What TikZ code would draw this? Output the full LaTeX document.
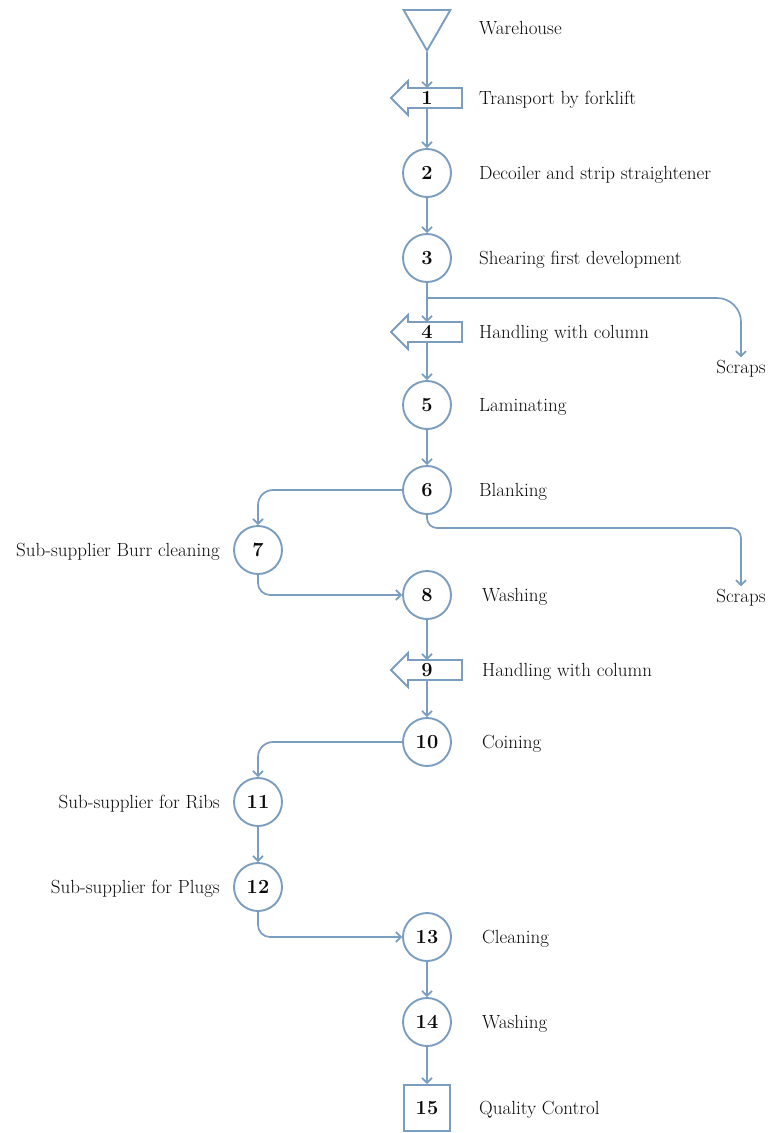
\documentclass[tikz,border=0pt]{standalone}
\usetikzlibrary{arrows.meta,shapes.geometric}
\definecolor{lc}{RGB}{122,157,192}
\definecolor{tx}{RGB}{10,10,10}
\begin{document}
\begin{tikzpicture}[x=1pt,y=-1pt,
  font=\fontsize{19}{23}\selectfont,
  proc/.style={circle,draw=lc,line width=1.9pt,minimum size=48pt,inner sep=0pt,
    text=tx,font=\fontsize{20}{24}\selectfont\bfseries},
  qc/.style={rectangle,draw=lc,line width=1.9pt,minimum size=46pt,inner sep=0pt,
    text=tx,font=\fontsize{20}{24}\selectfont\bfseries},
  mv/.style={rectangle,minimum width=20pt,minimum height=20pt,inner sep=0pt,outer sep=0pt,
    text=tx,font=\fontsize{20}{24}\selectfont\bfseries},
  blk/.style={draw=lc,line width=1.9pt},
  conn/.style={draw=lc,line width=1.7pt,-{Straight Barb[length=5pt,width=10pt]}},
  lab/.style={anchor=west,inner sep=0pt,text height=13pt,text depth=0pt,text=tx},
  llab/.style={anchor=east,inner sep=0pt,text height=13pt,text depth=0pt,text=tx},
  scr/.style={inner sep=3pt,text height=13pt,text depth=0pt,text=tx}]
\useasboundingbox (0,0) rectangle (768,1133);

% storage triangle
\node[regular polygon,regular polygon sides=3,shape border rotate=180,draw=lc,
  line width=1.9pt,minimum size=54pt,inner sep=0pt] (wh) at (427,23.5) {};

% process nodes
\node[mv] (n1) at (427,98) {1};
\node[proc] (n2) at (427,173) {2};
\node[proc] (n3) at (427,258) {3};
\coordinate (j1) at (427,298);
\node[mv] (n4) at (427,332) {4};
\node[scr] (s1) at (741,367) {Scraps};
\node[proc] (n5) at (427,405) {5};
\node[proc] (n6) at (427,490) {6};
\coordinate (b6) at (741,528);
\node[proc] (n7) at (258,550) {7};
\node[proc] (n8) at (427,595) {8};
\node[scr] (s2) at (741,596) {Scraps};
\node[mv] (n9) at (427,670) {9};
\node[proc] (n10) at (427,742) {10};
\node[proc] (n11) at (258,802) {11};
\node[proc] (n12) at (258,887) {12};
\node[proc] (n13) at (427,937) {13};
\node[proc] (n14) at (427,1022) {14};
\node[qc] (n15) at (427,1108) {15};

% block arrows (transport / handling)
\foreach \n in {n1,n4,n9}{
  \draw[blk] (\n.center) ++(-36,0) -- ++(17,-17) -- ++(0,7) -- ++(54,0) -- ++(0,20)
    -- ++(-54,0) -- ++(0,7) -- cycle;
}

% labels right
\node[lab] (l0) at (479,28) {Warehouse};
\node[lab] (l1) at (479,98) {Transport by forklift};
\node[lab] (l2) at (479,173) {Decoiler and strip straightener};
\node[lab] (l3) at (479,258) {Shearing first development};
\node[lab] (l4) at (479,332) {Handling with column};
\node[lab] (l5) at (479,405) {Laminating};
\node[lab] (l6) at (479,490) {Blanking};
\node[lab] (l8) at (482,595) {Washing};
\node[lab] (l9) at (482,670) {Handling with column};
\node[lab] (l10) at (482,742) {Coining};
\node[lab] (l13) at (482,937) {Cleaning};
\node[lab] (l14) at (482,1022) {Washing};
\node[lab] (l15) at (479,1108) {Quality Control};
% labels left
\node[llab] (l7) at (220,550) {Sub-supplier Burr cleaning};
\node[llab] (l11) at (220,802) {Sub-supplier for Ribs};
\node[llab] (l12) at (220,887) {Sub-supplier for Plugs};

% connectors
\draw[conn] (wh.south) -- (n1.north);
\draw[conn] (n1.south) -- (n2.north);
\draw[conn] (n2.south) -- (n3.north);
\draw[conn] (n3.south) -- (n4.north);
\draw[conn,rounded corners=24pt] (j1) -| (s1.north);
\draw[conn] (n4.south) -- (n5.north);
\draw[conn] (n5.south) -- (n6.north);
\draw[conn,rounded corners=15pt] (n6.west) -| (n7.north);
\draw[conn] (n6.south) [rounded corners=10pt] |- (b6) [rounded corners=24pt] -- (s2.north);
\draw[conn,rounded corners=12pt] (n7.south) |- (n8.west);
\draw[conn] (n8.south) -- (n9.north);
\draw[conn] (n9.south) -- (n10.north);
\draw[conn,rounded corners=15pt] (n10.west) -| (n11.north);
\draw[conn] (n11.south) -- (n12.north);
\draw[conn,rounded corners=12pt] (n12.south) |- (n13.west);
\draw[conn] (n13.south) -- (n14.north);
\draw[conn] (n14.south) -- (n15.north);
\end{tikzpicture}
\end{document}
